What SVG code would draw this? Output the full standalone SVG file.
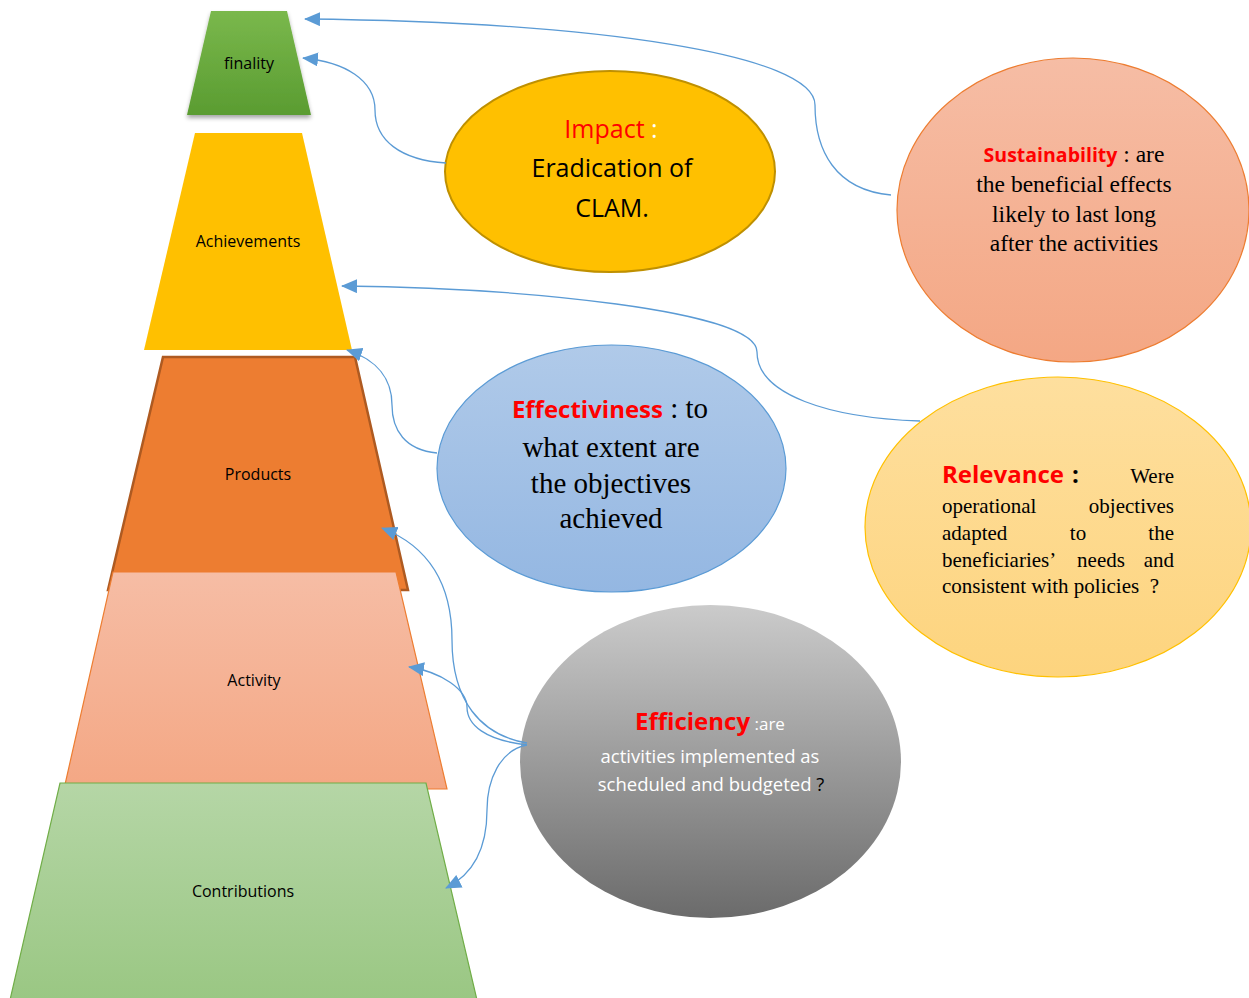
<svg xmlns="http://www.w3.org/2000/svg" width="1249" height="998" viewBox="0 0 1249 998">
<style>
.lbl{font-family:"Open Sans","Noto Sans",sans-serif;font-size:16px;fill:#000;text-anchor:middle}
.sans{font-family:"Open Sans","Noto Sans",sans-serif}
.serif{font-family:"Liberation Serif","Times New Roman",serif}
.red{fill:#FF0000;font-weight:bold}
.conn{fill:none;stroke:#5B9BD5;stroke-width:1.3;marker-end:url(#arr)}
</style>
<defs>
<marker id="arr" markerUnits="userSpaceOnUse" markerWidth="18" markerHeight="14" refX="15" refY="7" orient="auto">
<path d="M0,0 L16,7 L0,14 Z" fill="#5B9BD5"/>
</marker>
<linearGradient id="gFin" x1="0" y1="0" x2="0" y2="1"><stop offset="0" stop-color="#7AB84C"/><stop offset="1" stop-color="#5A9C31"/></linearGradient>
<linearGradient id="gAct" x1="0" y1="0" x2="0" y2="1"><stop offset="0" stop-color="#F6BDA5"/><stop offset="1" stop-color="#F4A784"/></linearGradient>
<linearGradient id="gCon" x1="0" y1="0" x2="0" y2="1"><stop offset="0" stop-color="#B5D6A6"/><stop offset="1" stop-color="#9AC783"/></linearGradient>
<linearGradient id="gSus" x1="0" y1="0" x2="0" y2="1"><stop offset="0" stop-color="#F6BDA5"/><stop offset="1" stop-color="#F4A784"/></linearGradient>
<linearGradient id="gRel" x1="0" y1="0" x2="0" y2="1"><stop offset="0" stop-color="#FEDF9E"/><stop offset="1" stop-color="#FDD47E"/></linearGradient>
<linearGradient id="gEff" x1="0" y1="0" x2="0" y2="1"><stop offset="0" stop-color="#B0CAE9"/><stop offset="1" stop-color="#94B7E2"/></linearGradient>
<linearGradient id="gEfc" x1="0" y1="0" x2="0" y2="1"><stop offset="0" stop-color="#CBCBCB"/><stop offset="1" stop-color="#6B6B6B"/></linearGradient>
<filter id="sh" x="-20%" y="-20%" width="140%" height="150%"><feDropShadow dx="0" dy="3" stdDeviation="2" flood-color="#000" flood-opacity="0.35"/></filter>
</defs>

<g id="finality">
<polygon points="211,11 287,11 311,115 187,115" fill="url(#gFin)" filter="url(#sh)"/>
<text class="lbl" x="249" y="69">finality</text>
</g>
<g id="achievements">
<polygon points="195,133 302,133 352,350 144,350" fill="#FFC000"/>
<text class="lbl" x="248" y="247">Achievements</text>
</g>
<g id="products">
<polygon points="163,357 355,357 408,590 108,590" fill="#ED7D31" stroke="#AE5A21" stroke-width="2.5"/>
<text class="lbl" x="258" y="480">Products</text>
</g>
<g id="activity">
<polygon points="113,572 396,572 447,789 64,789" fill="url(#gAct)" stroke="#ED7D31" stroke-width="1.2"/>
<text class="lbl" x="254" y="686">Activity</text>
</g>
<g id="contributions">
<polygon points="60,783 426,783 477,1000 10,1000" fill="url(#gCon)" stroke="#70AD47" stroke-width="1.2"/>
<text class="lbl" x="243" y="897">Contributions</text>
</g>

<g id="impact">
<ellipse cx="610" cy="171.5" rx="165" ry="100.5" fill="#FFC000" stroke="#BF9000" stroke-width="2"/>
<text class="sans" x="611" y="138" font-size="25" text-anchor="middle"><tspan fill="#FF0000">Impact</tspan><tspan fill="#FFFFFF"> :</tspan></text>
<text class="sans" x="612" y="177" font-size="25" text-anchor="middle">Eradication of</text>
<text class="sans" x="612" y="217" font-size="25" text-anchor="middle">CLAM.</text>
</g>

<g id="sustainability">
<ellipse cx="1073" cy="210" rx="176" ry="152" fill="url(#gSus)" stroke="#ED7D31" stroke-width="1.2"/>
<text x="1074" y="162" text-anchor="middle"><tspan class="sans red" font-size="19.5">Sustainability</tspan><tspan class="serif" font-size="23.5"> : are</tspan></text>
<text class="serif" x="1074" y="192" font-size="23.5" text-anchor="middle">the beneficial effects</text>
<text class="serif" x="1074" y="222" font-size="23.5" text-anchor="middle">likely to last long</text>
<text class="serif" x="1074" y="251" font-size="23.5" text-anchor="middle">after the activities</text>
</g>

<g id="relevance">
<ellipse cx="1058" cy="527" rx="193" ry="150" fill="url(#gRel)" stroke="#FFC000" stroke-width="1.2"/>
<text class="sans red" x="942" y="483" font-size="24">Relevance</text>
<text class="sans" x="1072" y="483" font-size="24" font-weight="bold">:</text>
<text class="serif" x="1174" y="483" font-size="21" text-anchor="end">Were</text>
<text class="serif" x="942" y="513" font-size="21">operational</text>
<text class="serif" x="1174" y="513" font-size="21" text-anchor="end">objectives</text>
<text class="serif" x="942" y="540" font-size="21">adapted</text>
<text class="serif" x="1078" y="540" font-size="21" text-anchor="middle">to</text>
<text class="serif" x="1174" y="540" font-size="21" text-anchor="end">the</text>
<text class="serif" x="942" y="567" font-size="21">beneficiaries’</text>
<text class="serif" x="1101" y="567" font-size="21" text-anchor="middle">needs</text>
<text class="serif" x="1174" y="567" font-size="21" text-anchor="end">and</text>
<text class="serif" x="942" y="593" font-size="21" xml:space="preserve">consistent with policies  ?</text>
</g>

<g id="effectiveness">
<ellipse cx="611.5" cy="468.5" rx="174.5" ry="123.5" fill="url(#gEff)" stroke="#5B9BD5" stroke-width="1.2"/>
<text x="610" y="418" text-anchor="middle"><tspan class="sans red" font-size="24">Effectiviness</tspan><tspan class="serif" font-size="29"> : to</tspan></text>
<text class="serif" x="611" y="457" font-size="29" text-anchor="middle">what extent are</text>
<text class="serif" x="611" y="493" font-size="29" text-anchor="middle">the objectives</text>
<text class="serif" x="611" y="528" font-size="29" text-anchor="middle">achieved</text>
</g>

<g id="efficiency">
<ellipse cx="710.5" cy="761.5" rx="190.5" ry="156.5" fill="url(#gEfc)"/>
<text x="710" y="730" text-anchor="middle"><tspan class="sans red" font-size="24">Efficiency</tspan><tspan class="sans" font-size="17" fill="#FFFFFF"> :are</tspan></text>
<text class="sans" x="710" y="763" font-size="18.5" fill="#FFFFFF" text-anchor="middle">activities implemented as</text>
<text class="sans" x="711" y="791" font-size="18.5" fill="#FFFFFF" text-anchor="middle">scheduled and budgeted <tspan fill="#000000">?</tspan></text>
</g>

<g id="connectors">
<path class="conn" d="M 891 195 C 835 190, 815 150, 815 105 C 815 55, 600 22, 305 19"/>
<path class="conn" d="M 446 163 C 400 160, 375 140, 375 110 C 375 80, 345 62, 303 58"/>
<path class="conn" d="M 920 421 C 830 418, 757 395, 757 352 C 757 310, 520 288, 342 286"/>
<path class="conn" d="M 437 453 C 405 450, 392 430, 392 405 C 392 380, 378 360, 347 350"/>
<path class="conn" d="M 527 743 C 480 735, 452 700, 452 640 C 452 580, 425 545, 382 528"/>
<path class="conn" d="M 527 745 C 485 740, 467 725, 467 707 C 467 690, 442 672, 409 667"/>
<path class="conn" d="M 527 745 C 500 750, 487 780, 487 810 C 487 850, 472 875, 446 888"/>
</g>
</svg>
